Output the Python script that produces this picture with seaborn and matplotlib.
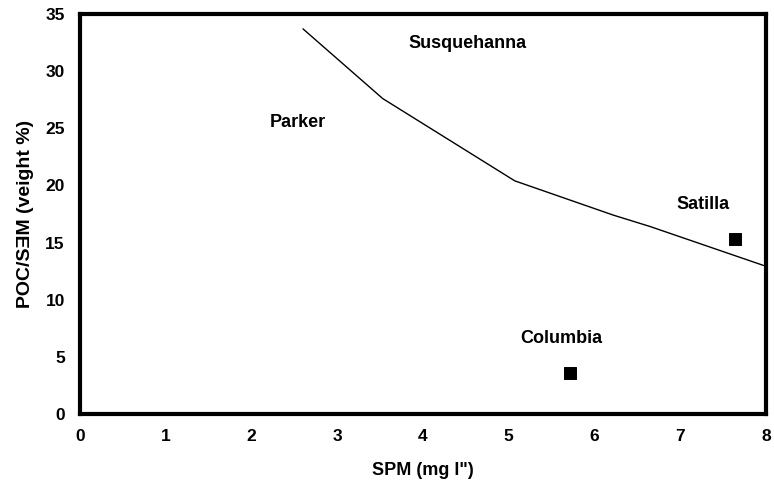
import matplotlib
matplotlib.use("Agg")
import matplotlib.pyplot as plt
import seaborn as sns
import pandas as pd

# --- data ---
curve_spm = [2.6, 3.53, 5.07, 6.22, 6.65, 7.97]
curve_poc = [33.7, 27.6, 20.4, 17.4, 16.4, 13.0]

site_names = ["Satilla", "Columbia"]
site_spm = [7.64, 5.71]
site_poc = [15.3, 3.6]

label_names = ["Susquehanna", "Parker", "Satilla", "Columbia"]
label_x = [4.52, 2.54, 7.27, 5.61]
label_y = [32.4, 25.5, 18.3, 6.6]

x_ticks = [0, 1, 2, 3, 4, 5, 6, 7, 8]
y_ticks = [0, 5, 10, 15, 20, 25, 30, 35]

sns.set_style("white")
plt.rcParams["font.family"] = ["Liberation Sans", "DejaVu Sans"]
plt.rcParams["text.color"] = "black"
plt.rcParams["axes.labelcolor"] = "black"
plt.rcParams["xtick.color"] = "black"
plt.rcParams["ytick.color"] = "black"

fig = plt.figure(figsize=(7.74, 5), dpi=100)
ax = fig.add_axes([0.1034, 0.172, 0.8863, 0.800])

curve = pd.DataFrame({"spm": curve_spm, "poc": curve_poc})
sites = pd.DataFrame({"site": site_names, "spm": site_spm, "poc": site_poc})

sns.lineplot(data=curve, x="spm", y="poc", color="black", linewidth=1.0,
             sort=False, ax=ax)
sns.scatterplot(data=sites, x="spm", y="poc", marker="s", s=75,
                color="black", edgecolor="black", ax=ax)

for name, x, y in zip(label_names, label_x, label_y):
    ax.text(x, y, name, ha="center", va="center", fontsize=13,
            fontweight="bold", color="black")

ax.set_xlim(0, 8)
ax.set_ylim(0, 35)
ax.set_xticks(x_ticks)
ax.set_yticks(y_ticks)
ax.tick_params(axis="both", direction="out", length=3, width=2,
               labelsize=12.5, pad=8, color="black", labelcolor="black")
for lbl in ax.get_xticklabels() + ax.get_yticklabels():
    lbl.set_fontweight("bold")

for side in ["left", "right", "top", "bottom"]:
    ax.spines[side].set_visible(True)
    ax.spines[side].set_linewidth(3)
    ax.spines[side].set_color("black")

ax.set_xlabel("SPM (mg l\")", fontsize=13, fontweight="bold", labelpad=13,
              color="black")
ax.set_ylabel("POC/S\u018eM (veight %)", fontsize=14, fontweight="bold",
              labelpad=8, color="black")

fig.savefig("out.png", dpi=100)
